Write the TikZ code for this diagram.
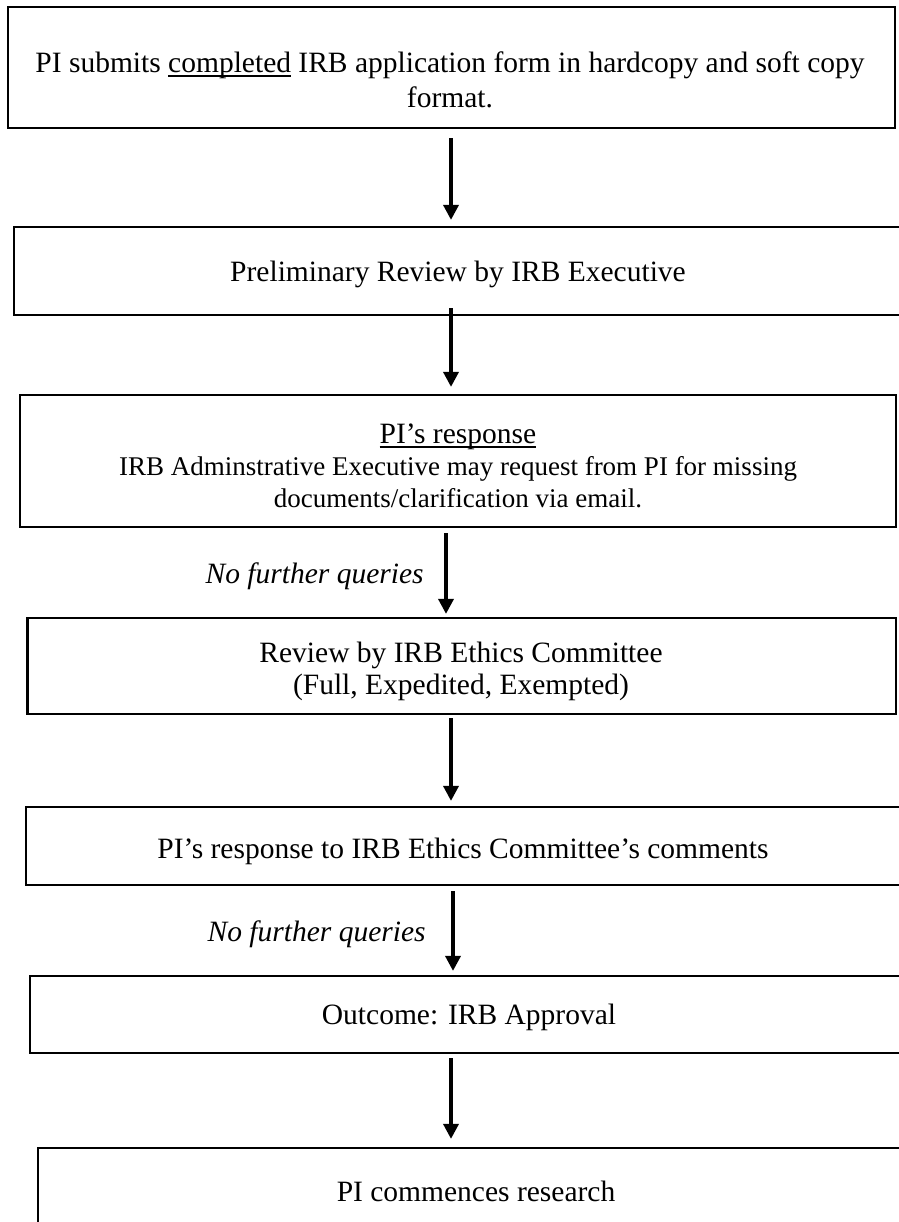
\documentclass[tikz,border=0pt]{standalone}
\usepackage{fontspec}
\setmainfont{Liberation Serif}
\usetikzlibrary{arrows.meta}

% underline that sits just under the baseline
\newlength\ulwd
\newcommand{\wordul}[1]{\settowidth{\ulwd}{#1}\rlap{\rule[-1.8pt]{\ulwd}{0.7pt}}#1}
\newcommand{\smallline}{\fontsize{10.8}{12.8}\selectfont}

\tikzset{
  stepbox/.style={draw, line width=0.9pt, inner sep=0pt},
  flow/.style={line width=1.4pt, -{Triangle[width=6pt,length=6pt]}},
  boxtext/.style={align=center, inner sep=0.75pt, font=\fontsize{11.8}{12.8}\selectfont},
  querytext/.style={anchor=base east, inner sep=0.75pt, font=\fontsize{11.8}{12.8}\selectfont\itshape}
}

\begin{document}
\begin{tikzpicture}[x=0.4pt,y=0.4pt,yscale=-1]
\useasboundingbox (0,0) rectangle (899,1222);
% arrow columns
\coordinate (ax) at (451,0);
\coordinate (ax3) at (446,0);
\coordinate (ax5) at (453,0);

%Shape: Rectangle
\node[stepbox, minimum width=354.8pt, minimum height=48.4pt] (b1) at (451.5,67.5) {};
%Shape: Rectangle
\node[stepbox, minimum width=356.4pt, minimum height=35.2pt] (b2) at (459.5,271) {};
%Shape: Rectangle
\node[stepbox, minimum width=350.4pt, minimum height=52.8pt] (b3) at (458,461) {};
%Shape: Rectangle
\node[stepbox, minimum width=347.4pt, minimum height=38.4pt] (b4) at (461.75,666) {};
%Shape: Rectangle
\node[stepbox, minimum width=351.6pt, minimum height=31.2pt] (b5) at (465.5,846) {};
%Shape: Rectangle
\node[stepbox, minimum width=350pt, minimum height=30.8pt] (b6) at (467.5,1014.5) {};
%Shape: Rectangle
\node[stepbox, minimum width=346.8pt, minimum height=34.8pt] (b7) at (471.5,1191.5) {};

% Text Node
\node[boxtext] (t1) at (450,80) {PI submits \wordul{completed} IRB application form in hardcopy and soft copy\\[1.2pt] format.};
% Text Node
\node[boxtext] (t2) at (458,274) {Preliminary Review by IRB Executive};
% Text Node
\node[boxtext] (t3) at (458,466) {\wordul{PI's response}\\\smallline IRB Adminstrative Executive may request from PI for missing\\\smallline documents/clarification via email.};
% Text Node
\node[boxtext] (t4) at (461,671) {Review by IRB Ethics Committee\\(Full, Expedited, Exempted)};
% Text Node
\node[boxtext] (t5) at (463,851) {PI's response to IRB Ethics Committee's comments};
% Text Node
\node[boxtext] (t6) at (469,1017) {Outcome: IRB Approval};
% Text Node
\node[boxtext] (t7) at (476,1191) {PI commences research};

%Straight Lines
\draw[flow, shorten <=3.6pt, shorten >=2.4pt] (b1.south -| ax) -- (b2.north -| ax);
\draw[flow, shorten <=-3.2pt, shorten >=2.8pt] (b2.south -| ax) -- (b3.north -| ax);
\draw[flow, shorten <=2pt, shorten >=1.2pt] (b3.south -| ax3) -- (b4.north -| ax3);
\draw[flow, shorten <=1.2pt, shorten >=2pt] (b4.south -| ax) -- (b5.north -| ax);
\draw[flow, shorten <=2pt, shorten >=1.6pt] (b5.south -| ax5) -- (b6.north -| ax5);
\draw[flow, shorten <=1.6pt, shorten >=3.2pt] (b6.south -| ax) -- (b7.north -| ax);

% Text Node
\node[querytext] (q1) at (426,583) {No further queries};
% Text Node
\node[querytext] (q2) at (428,941) {No further queries};
\end{tikzpicture}
\end{document}
